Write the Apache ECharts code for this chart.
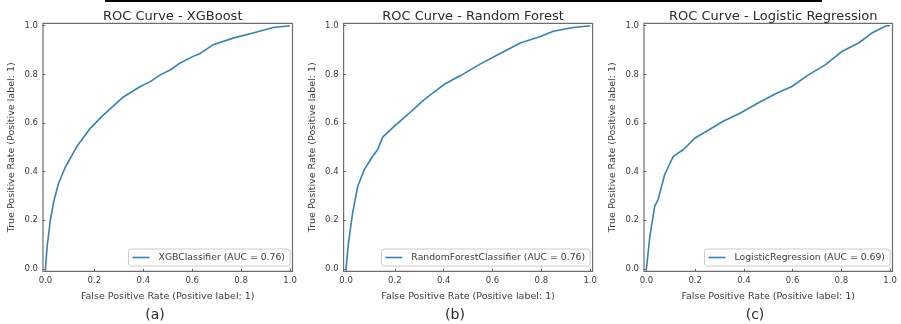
<!DOCTYPE html>
<html><head><meta charset="utf-8">
<script src="https://cdn.jsdelivr.net/npm/echarts@6/dist/echarts.min.js"></script>
<style>html,body{margin:0;padding:0;background:#fff}#c{width:901px;height:324px}</style>
</head><body><div id="c"></div>
<script>
// ---- data ----
const titles = ['ROC Curve - XGBoost', 'ROC Curve - Random Forest', 'ROC Curve - Logistic Regression'];
const seriesNames = ['XGBClassifier (AUC = 0.76)', 'RandomForestClassifier (AUC = 0.76)', 'LogisticRegression (AUC = 0.69)'];
const captions = ['(a)', '(b)', '(c)'];
const tickValues = [0, 0.2, 0.4, 0.6, 0.8, 1.0];
const xName = 'False Positive Rate (Positive label: 1)';
const yName = 'True Positive Rate (Positive label: 1)';

const xgbFpr = [0, 0.007, 0.02, 0.034, 0.054, 0.082, 0.129, 0.184, 0.231, 0.306, 0.32, 0.388, 0.429, 0.469, 0.51, 0.551, 0.604, 0.633, 0.686, 0.767, 0.849, 0.931, 1];
const xgbTpr = [0, 0.093, 0.20, 0.278, 0.353, 0.42, 0.504, 0.579, 0.627, 0.696, 0.708, 0.75, 0.77, 0.798, 0.818, 0.847, 0.874, 0.886, 0.922, 0.949, 0.97, 0.993, 1];

const rfFpr = [0, 0.01, 0.027, 0.048, 0.075, 0.109, 0.129, 0.15, 0.197, 0.252, 0.32, 0.401, 0.469, 0.551, 0.633, 0.714, 0.796, 0.849, 0.931, 1];
const rfTpr = [0, 0.107, 0.23, 0.34, 0.408, 0.463, 0.49, 0.542, 0.586, 0.634, 0.696, 0.758, 0.795, 0.843, 0.887, 0.929, 0.956, 0.977, 0.993, 1];

const lrFpr = [0, 0.014, 0.034, 0.048, 0.075, 0.11, 0.151, 0.199, 0.247, 0.315, 0.384, 0.46, 0.53, 0.597, 0.66, 0.735, 0.802, 0.871, 0.925, 0.985, 1];
const lrTpr = [0, 0.134, 0.258, 0.285, 0.388, 0.463, 0.49, 0.538, 0.566, 0.607, 0.64, 0.683, 0.72, 0.75, 0.795, 0.84, 0.894, 0.929, 0.97, 1.0, 1];

const fprs = [xgbFpr, rfFpr, lrFpr];
const tprs = [xgbTpr, rfTpr, lrTpr];

// ---- layout ----
const grids = [
  {left: 43, top: 23.3, width: 249.5, height: 248},
  {left: 343.6, top: 23.3, width: 249, height: 248},
  {left: 644, top: 23.3, width: 248.5, height: 248}
];
const captionX = [150, 450, 750];
const FONT = 'DejaVu Sans';
const lineColor = '#3282b8';

const option = {
  animation: false,
  backgroundColor: '#fff',
  title: [], grid: [], xAxis: [], yAxis: [], series: [], legend: [],
  graphic: [
    {type: 'line', shape: {x1: 105, y1: 1, x2: 822, y2: 1}, style: {stroke: '#000', lineWidth: 2}}
  ]
};

grids.forEach((g, i) => {
  option.grid.push({left: g.left, top: g.top, width: g.width, height: g.height,
    show: true, borderColor: '#6e6e6e', borderWidth: 1.2, backgroundColor: '#fff'});
  const axisCommon = {
    min: -0.01, max: 1.01, gridIndex: i,
    nameLocation: 'middle',
    nameTextStyle: {fontFamily: FONT, fontSize: 9.5, color: '#3a3a3a'},
    axisLine: {show: false},
    splitLine: {show: false},
    axisTick: {show: true, customValues: tickValues, length: 3, lineStyle: {color: '#666'}},
    axisLabel: {customValues: tickValues, fontFamily: FONT, fontSize: 8.5, color: '#3a3a3a',
      formatter: v => v.toFixed(1)}
  };
  option.xAxis.push(Object.assign({}, axisCommon, {type: 'value', name: xName, nameGap: 20,
    axisLabel: Object.assign({}, axisCommon.axisLabel, {margin: 5})}));
  option.yAxis.push(Object.assign({}, axisCommon, {type: 'value', name: yName, nameGap: 26,
    axisLabel: Object.assign({}, axisCommon.axisLabel, {margin: 5})}));
  option.series.push({
    type: 'line', name: seriesNames[i], xAxisIndex: i, yAxisIndex: i,
    showSymbol: false, symbol: 'none', smooth: false,
    lineStyle: {color: lineColor, width: 1.6}, itemStyle: {color: lineColor},
    data: fprs[i].map((x, k) => [x, tprs[i][k]])
  });
  option.title.push({
    text: titles[i], left: g.left + g.width / 2, top: 5, textAlign: 'center',
    textStyle: {fontFamily: FONT, fontSize: 13, fontWeight: 'normal', color: '#2a2a2a'}
  });
  option.title.push({
    text: captions[i], left: captionX[i], top: 303, textAlign: 'center',
    textStyle: {fontFamily: FONT, fontSize: 14, fontWeight: 'normal', color: '#2a2a2a'}
  });
  option.legend.push({
    data: [seriesNames[i]],
    right: 901 - (g.left + g.width - 2.5), top: 249,
    orient: 'horizontal',
    padding: [4, 5, 4, 4],
    borderColor: '#ccc', borderWidth: 1, borderRadius: 3,
    backgroundColor: '#fff',
    icon: 'rect', itemWidth: 17, itemHeight: 1.6,
    textStyle: {fontFamily: FONT, fontSize: 9.3, color: '#3a3a3a', padding: [0, 0, 0, 4]},
    selectedMode: false
  });
});

const chart = echarts.init(document.getElementById('c'), null, {renderer: 'canvas'});
chart.setOption(option);
</script>
</body></html>
